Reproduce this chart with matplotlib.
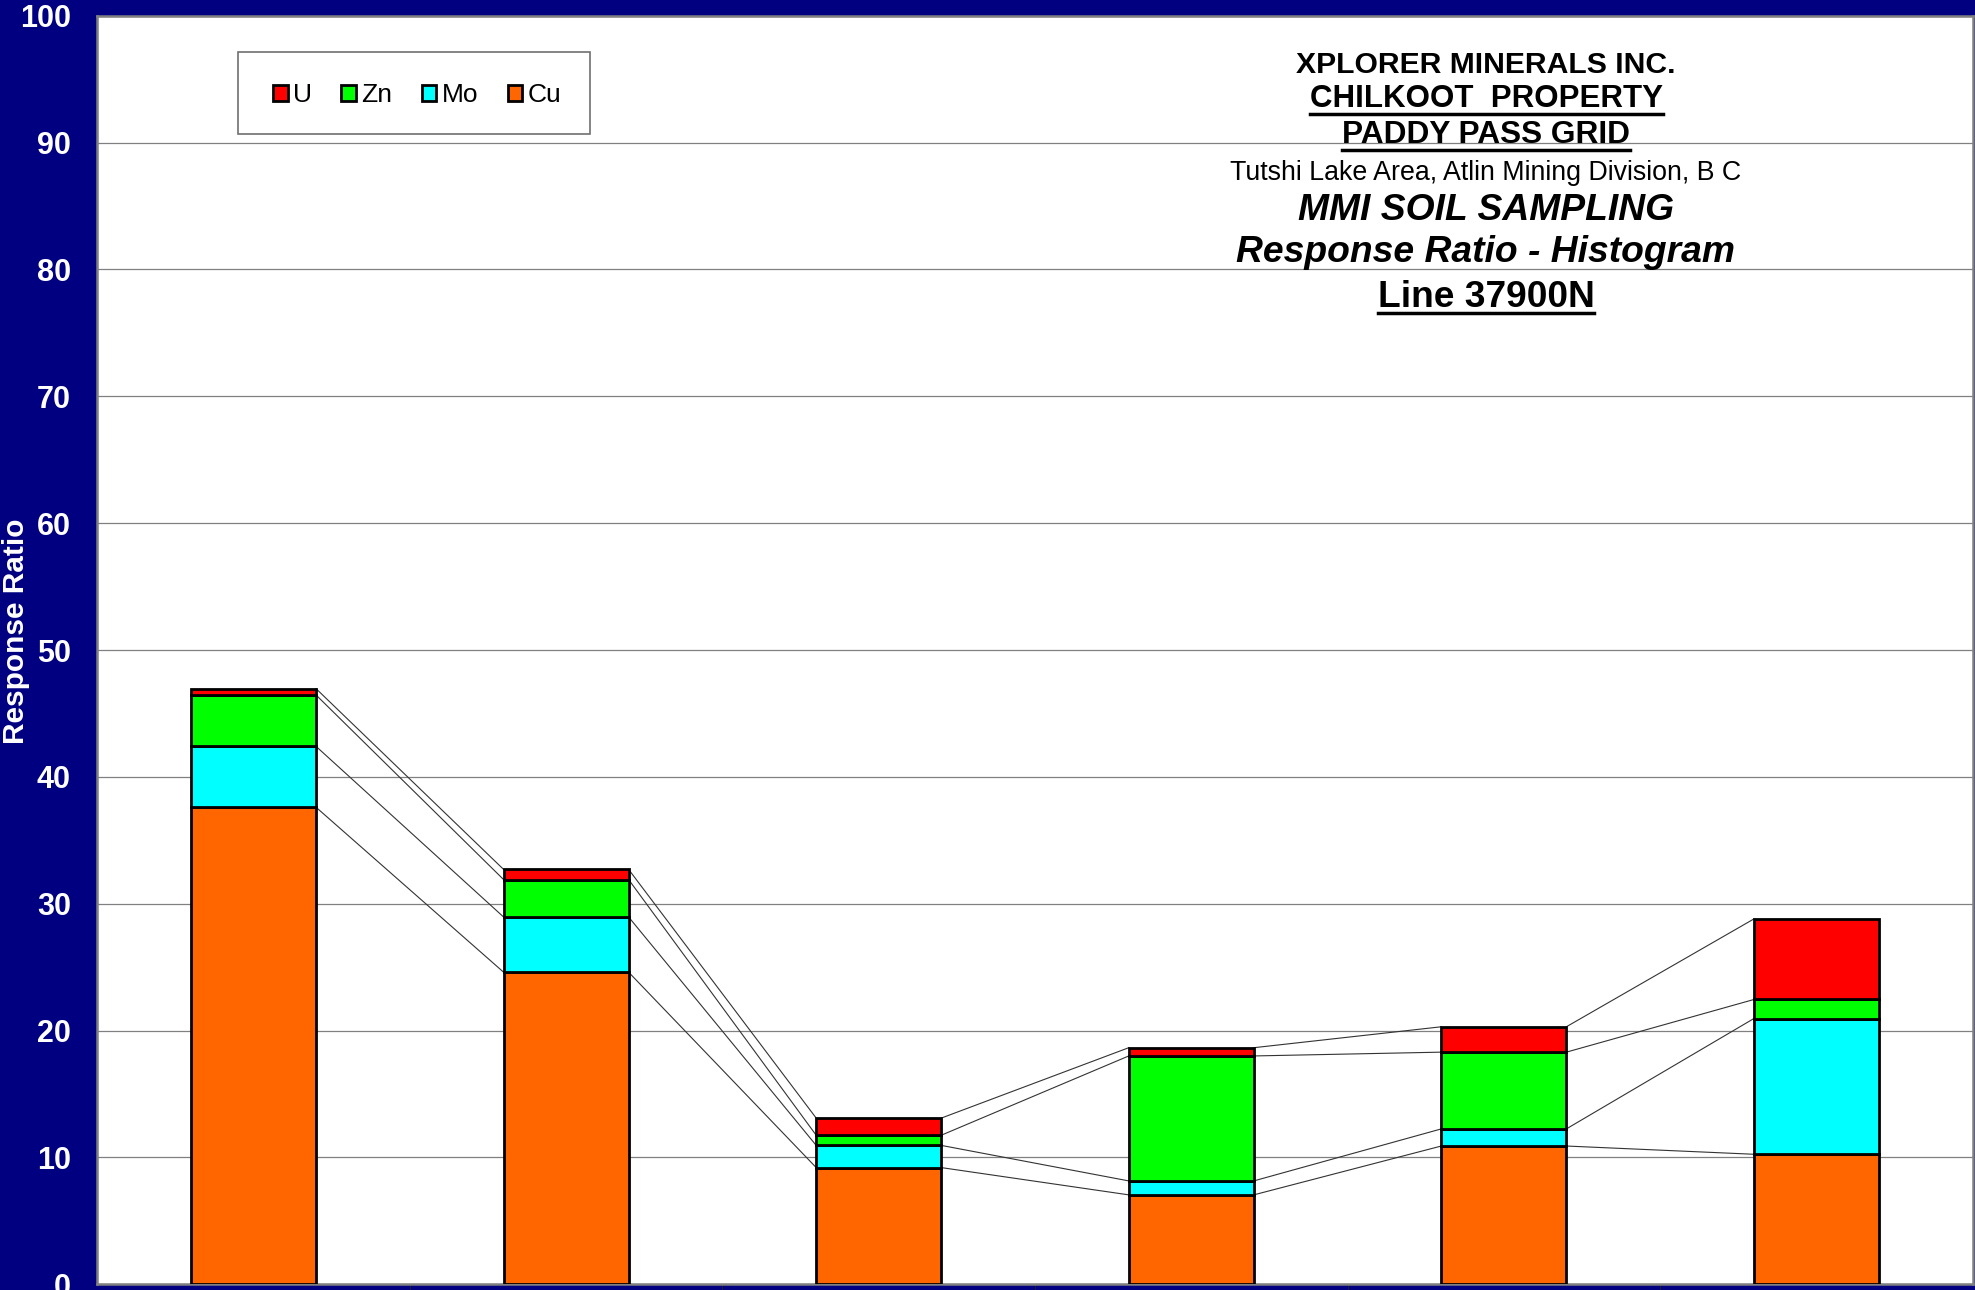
import numpy as np
import matplotlib
matplotlib.use('Agg')
import matplotlib.pyplot as plt
from matplotlib.lines import Line2D
from matplotlib.patches import Rectangle

plt.rcParams['font.family'] = ['Liberation Sans', 'DejaVu Sans']

# sample stations along the line (no labels are printed under the bars)
stations = np.arange(6)

# response ratios per element, stacked bottom to top
cu = [37.6, 24.6, 9.2, 7.05, 10.9, 10.25]
mo = [4.8, 4.35, 1.75, 1.1, 1.35, 10.7]
zn = [4.05, 2.95, 0.8, 9.85, 6.05, 1.5]
u = [0.5, 0.8, 1.35, 0.65, 2.0, 6.35]

elements = ['Cu', 'Mo', 'Zn', 'U']
colors = {'Cu': '#FF6600', 'Mo': '#00FFFF', 'Zn': '#00FF00', 'U': '#FF0000'}
values = {'Cu': cu, 'Mo': mo, 'Zn': zn, 'U': u}

y_ticks = list(range(0, 101, 10))

NAVY = '#000080'
W, H = 1975, 1290

fig = plt.figure(figsize=(W / 100, H / 100), dpi=100, facecolor=NAVY)
ax = fig.add_axes([97.3 / W, (H - 1284.3) / H, 1875.4 / W, 1268.6 / H])
ax.set_facecolor('white')

bar_w = 0.4
bottom = np.zeros(len(stations))
bars = {}
for el in elements:
    vals = np.array(values[el])
    bars[el] = ax.bar(stations, vals, bar_w, bottom=bottom, color=colors[el],
                      edgecolor='black', linewidth=2.0, label=el, zorder=3)
    bottom = bottom + vals
    # series lines joining the tops of each segment
    for i in range(len(stations) - 1):
        ax.plot([stations[i] + bar_w / 2, stations[i + 1] - bar_w / 2],
                [bottom[i], bottom[i + 1]], color='#333333', lw=0.8, zorder=2)

ax.set_xlim(-0.5, len(stations) - 0.5)
ax.set_ylim(0, 100)
ax.set_yticks(y_ticks)
ax.set_yticklabels([str(t) for t in y_ticks], color='white', fontsize=22, fontweight='bold')
ax.tick_params(axis='y', length=0, pad=19)
ax.set_xticks([])
ax.set_xticks(np.arange(0.5, len(stations) - 0.5), minor=True)
ax.tick_params(axis='x', which='minor', length=5, color='#222222', direction='out')
ax.set_xticklabels([], minor=True)
ax.yaxis.grid(True, color='#808080', lw=0.9, zorder=0)
ax.set_axisbelow(True)
for sp in ax.spines.values():
    sp.set_color('#808080')
    sp.set_linewidth(1.8)

fig.text(16 / W, 1 - 631 / H, 'Response Ratio', rotation=90, color='white',
         fontsize=21.5, fontweight='bold', ha='center', va='center')

# legend box with the entries centred inside
ax.add_patch(Rectangle((0.0750, 0.9065), 0.1877, 0.0646, transform=ax.transAxes,
                       facecolor='white', edgecolor='#707070', lw=1.2, zorder=4))
handles = [bars[el] for el in ['U', 'Zn', 'Mo', 'Cu']]
leg = ax.legend(handles, ['U', 'Zn', 'Mo', 'Cu'], loc='center', bbox_to_anchor=(0.1705, 0.9375),
                ncol=4, frameon=False, fontsize=19, handlelength=0.55, handleheight=0.55,
                handletextpad=0.2, columnspacing=1.12, borderpad=0)
leg.set_zorder(5)

# title block
cx = 1486 / W
title_lines = [
    ('XPLORER MINERALS INC.', 73.3, 21.7, 'normal', False),
    ('CHILKOOT  PROPERTY', 107.3, 22.5, 'normal', True),
    ('PADDY PASS GRID', 143.3, 22.8, 'normal', True),
    ('Tutshi Lake Area, Atlin Mining Division, B C', 180, 19.3, None, False),
    ('MMI SOIL SAMPLING', 220, 26.8, 'italic', False),
    ('Response Ratio - Histogram', 261.7, 26.8, 'italic', False),
    ('Line 37900N', 306.7, 26.7, 'normal', True),
]
texts = []
for txt, base, size, style, under in title_lines:
    weight = 'normal' if style is None else 'bold'
    t = fig.text(cx, 1 - base / H, txt, ha='center', va='baseline', fontsize=size,
                 fontweight=weight, fontstyle=style or 'normal', color='black', zorder=6)
    texts.append((t, base, under))

fig.canvas.draw()
renderer = fig.canvas.get_renderer()
for t, base, under in texts:
    if not under:
        continue
    bb = t.get_window_extent(renderer)
    y = 1 - (base + 6.5) / H
    fig.add_artist(Line2D([bb.x0 / W, bb.x1 / W], [y, y], color='black', lw=2.5,
                          transform=fig.transFigure))

fig.savefig('out.png', dpi=100, facecolor=NAVY)
